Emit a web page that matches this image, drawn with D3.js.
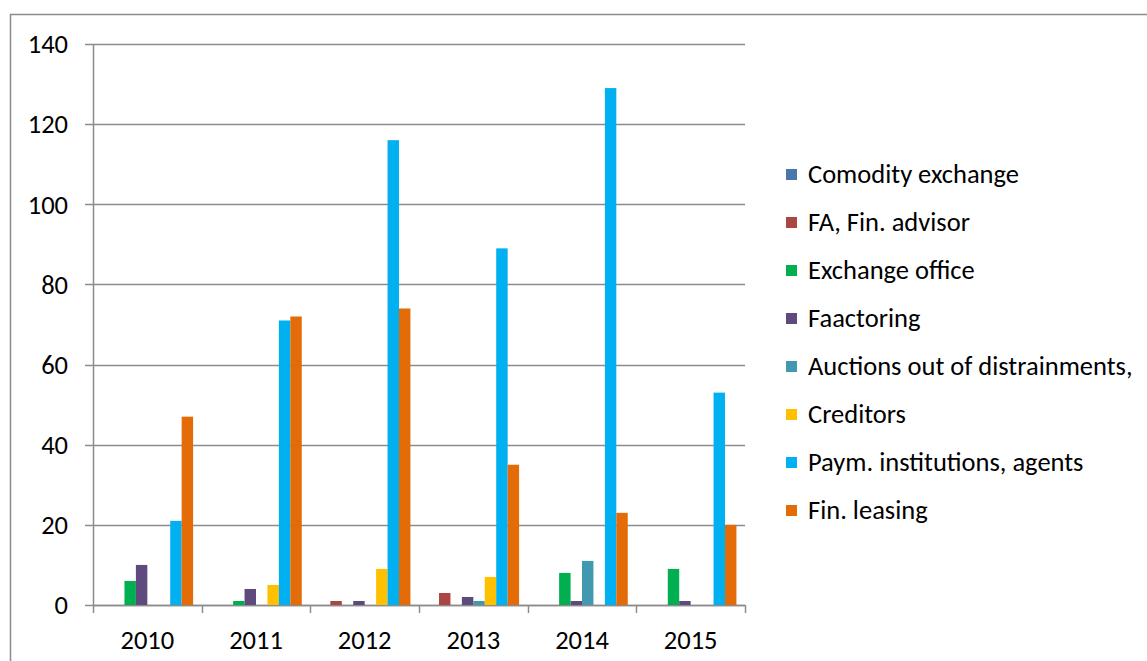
<!DOCTYPE html>
<html>
<head>
<meta charset="utf-8">
<script src="https://cdn.jsdelivr.net/npm/d3@7"></script>
<style>
  html, body { margin: 0; padding: 0; background: #fff; }
  svg { display: block; font-family: Carlito, Calibri, Lato, "Open Sans", sans-serif; }
</style>
</head>
<body>
<svg id="chart" width="1147" height="661"></svg>
<script>
// Registered entities by type, per year
const years = ["2010", "2011", "2012", "2013", "2014", "2015"];
const seriesNames = [
  "Comodity exchange",
  "FA, Fin. advisor",
  "Exchange office",
  "Faactoring",
  "Auctions out of distrainments,",
  "Creditors",
  "Paym. institutions, agents",
  "Fin. leasing"
];
const comodityExchange = [0, 0, 0, 0, 0, 0];
const finAdvisor      = [0, 0, 1, 3, 0, 0];
const exchangeOffice  = [6, 1, 0, 0, 8, 9];
const factoring       = [10, 4, 1, 2, 1, 1];
const auctions        = [0, 0, 0, 1, 11, 0];
const creditors       = [0, 5, 9, 7, 0, 0];
const paymentInst     = [21, 71, 116, 89, 129, 53];
const finLeasing      = [47, 72, 74, 35, 23, 20];
const yTicks = [0, 20, 40, 60, 80, 100, 120, 140];

const seriesValues = [comodityExchange, finAdvisor, exchangeOffice, factoring,
                      auctions, creditors, paymentInst, finLeasing];
const colors = ["#4876AD", "#AA4643", "#00B050", "#5F4A7D",
                "#4298AF", "#FFC000", "#00B0F0", "#E36C09"];

const svg = d3.select("#chart");
const gridColor = "#8c8c8c";
const fontSize = 26.5;

// Outer frame (open to the right and bottom)
svg.append("path")
  .attr("d", "M10.5,661 L10.5,14.5 L1147,14.5")
  .attr("fill", "none").attr("stroke", gridColor).attr("stroke-width", 1.5);

const plot = { left: 93, right: 745, top: 44, bottom: 605 };

const x0 = d3.scaleBand().domain(years).range([plot.left, plot.right]).paddingInner(0).paddingOuter(0);
const y = d3.scaleLinear().domain([0, 140]).range([plot.bottom, plot.top]);

// Clustered bars with a 150% gap width, split half on each side of the cluster
const barW = x0.bandwidth() / (seriesNames.length + 1.5);
const barX = (yr, i) => x0(yr) + 0.75 * barW + i * barW;

// Horizontal gridlines and y tick marks
const g = svg.append("g");
g.selectAll("line.grid").data(yTicks).join("line")
  .attr("class", "grid")
  .attr("x1", plot.left - 8).attr("x2", plot.right)
  .attr("y1", d => Math.round(y(d)) + 0.5).attr("y2", d => Math.round(y(d)) + 0.5)
  .attr("stroke", gridColor).attr("stroke-width", 1.5);

// Y axis line
g.append("line")
  .attr("x1", plot.left + 0.5).attr("x2", plot.left + 0.5)
  .attr("y1", plot.top).attr("y2", plot.bottom)
  .attr("stroke", gridColor).attr("stroke-width", 1.5);

// Y tick labels
g.selectAll("text.ylab").data(yTicks).join("text")
  .attr("class", "ylab")
  .attr("x", 68).attr("y", d => y(d))
  .attr("dy", "0.35em").attr("text-anchor", "end")
  .attr("font-size", fontSize).attr("fill", "#000")
  .text(d => d);

// Bars
seriesValues.forEach((vals, i) => {
  svg.append("g").selectAll("rect").data(years.map((yr, j) => ({ yr, v: vals[j] })))
    .join("rect")
    .attr("x", d => barX(d.yr, i))
    .attr("width", barW)
    .attr("y", d => y(d.v))
    .attr("height", d => y(0) - y(d.v))
    .attr("fill", colors[i]);
});

// X axis line and category tick marks
const cats = years.map(yr => x0(yr)).concat([plot.right]);
g.append("line")
  .attr("x1", plot.left).attr("x2", plot.right)
  .attr("y1", Math.round(y(0)) + 0.5).attr("y2", Math.round(y(0)) + 0.5)
  .attr("stroke", gridColor).attr("stroke-width", 1.5);
g.selectAll("line.xtick").data(cats).join("line")
  .attr("class", "xtick")
  .attr("x1", d => Math.round(d) + 0.5).attr("x2", d => Math.round(d) + 0.5)
  .attr("y1", y(0)).attr("y2", y(0) + 8)
  .attr("stroke", gridColor).attr("stroke-width", 1.5);

// X labels
g.selectAll("text.xlab").data(years).join("text")
  .attr("class", "xlab")
  .attr("x", d => x0(d) + x0.bandwidth() / 2)
  .attr("y", 640).attr("dy", "0.35em")
  .attr("text-anchor", "middle").attr("font-size", fontSize).attr("fill", "#000")
  .text(d => d);

// Legend
const legend = svg.append("g");
seriesNames.forEach((name, i) => {
  const ly = 174 + i * 48;
  legend.append("rect")
    .attr("x", 786).attr("y", ly - 5).attr("width", 11).attr("height", 11)
    .attr("fill", colors[i]);
  legend.append("text")
    .attr("x", 808).attr("y", ly).attr("dy", "0.35em")
    .attr("font-size", fontSize).attr("fill", "#000")
    .text(name);
});
</script>
</body>
</html>
